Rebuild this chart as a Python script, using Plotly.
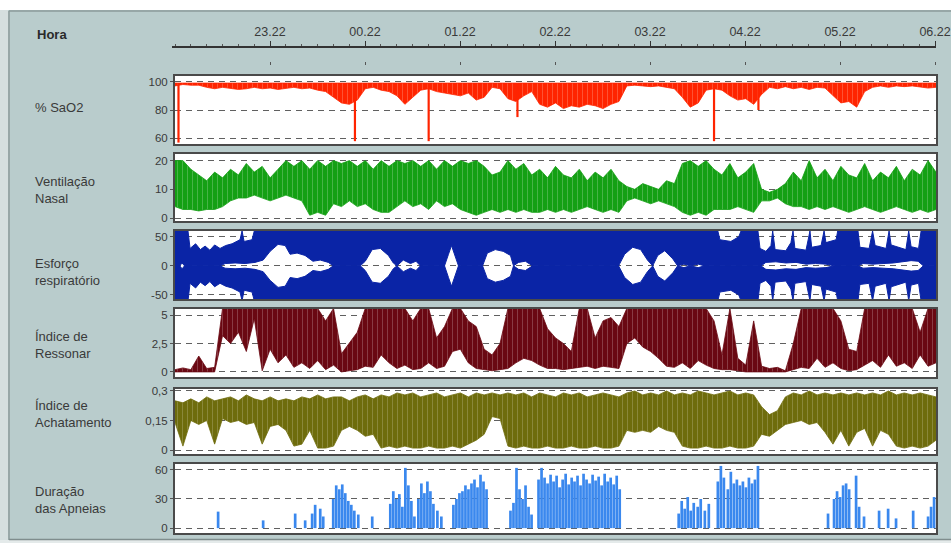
import plotly.graph_objects as go

# ---------------- data ----------------
minutes = list(range(0, 481, 5))          # 5-minute grid, 0 = 22.22
hour_ticks = [60, 120, 180, 240, 300, 360, 420, 480]
hour_labels = ["23.22", "00.22", "01.22", "02.22", "03.22", "04.22", "05.22", "06.22"]

panel_labels = ["% SaO2", "Ventilação<br>Nasal", "Esforço<br>respiratório",
                "Índice de<br>Ressonar", "Índice de<br>Achatamento", "Duração<br>das Apneias"]

# % SaO2: upper edge and lower envelope, plus deep single-sample drops
spo2_top = 99
spo2_low = [97, 98, 97.5, 97.5,
            96, 95, 96, 95, 94.5, 95, 96, 95, 95.5, 94.5, 95, 96, 95, 95.5, 94, 93,
            89, 85, 84, 87,
            95, 96, 94, 93,
            90, 84, 89,
            94,
            95, 93, 92, 91, 90, 92,
            87, 89,
            96, 95,
            88, 86, 90,
            93,
            84, 82, 85, 81, 83, 82, 84, 83, 81, 84, 86,
            97, 97.5, 97, 96.5, 97, 96, 95,
            89, 82, 85,
            94, 95, 94,
            90, 87, 88, 84, 91,
            96, 95, 96.5, 95, 96, 94.5, 96, 95.5,
            90, 85, 86, 82, 93,
            96, 97, 96, 97, 96.5, 97, 96, 95.5, 96]
spo2_drop_t = [2.2, 113.5, 160, 216, 340, 368]
spo2_drop_v = [57, 58, 58, 75, 58, 80]

# Ventilação nasal envelope
vent_high = [20, 20, 17, 15, 13, 16, 14, 17, 15, 19,
             16, 18, 14, 17, 20, 18, 20, 17, 20, 18,
             20, 19, 20, 18, 20, 17, 20, 18, 20, 19,
             20, 18, 20, 17, 20, 18, 20, 19, 20, 18,
             15, 16, 20, 17, 19, 15, 17, 14, 18, 15,
             14, 17, 13, 16, 14, 17, 13, 11, 10, 12,
             11, 10, 13, 12, 19, 20, 18, 20, 17, 15,
             19, 14, 16, 19, 10, 9, 10, 12, 16, 13,
             20, 14, 17, 13, 18, 15, 14, 19, 13, 16,
             14, 18, 13, 17, 15, 20, 16]
vent_low = [4, 3, 3, 2.5, 3, 3, 4, 6, 7, 7,
            8, 7, 6, 7, 8, 7, 6, 1, 2, 1,
            5, 4, 6, 4, 5, 3, 2, 2, 4, 6,
            4, 5, 3, 6, 4, 5, 3, 2, 1, 2,
            3, 2, 3, 2, 3, 2, 2, 3, 2, 3,
            2, 3, 4, 3, 2, 3, 2, 6, 7, 6,
            5, 6, 5, 4, 2, 1, 2, 1, 3, 3,
            3, 4, 3, 2, 6, 6, 7, 5, 4, 4,
            3, 4, 3, 4, 3, 2, 3, 4, 3, 2,
            3, 4, 3, 2, 3, 2, 3]

# Esforço respiratório: half-width of the quiet gaps around 0, and outer amplitude
eff_gap_t = [0, 3, 4.5, 6, 28.4, 31.6, 37.9, 44.2, 50.5, 55.6, 60, 65, 69.5, 72.6, 77, 82, 87,
             91.6, 96.7, 99.8, 116.9, 120, 124.4, 129.5, 134.6, 137.7, 140, 144, 148.5, 152,
             154.8, 170, 172.5, 174.4, 176.9, 178.8, 194, 197, 202, 207, 211.6, 213.5, 216.7,
             221, 225.5, 279.8, 283.6, 288.7, 293.7, 298, 301.3, 304.5, 308.9, 314, 317, 321,
             325, 330, 334, 369.6, 372.7, 379, 385.3, 391.7, 398, 404, 410.6, 415.7, 430.8,
             434, 440.3, 446.6, 453, 459, 464.3, 468.7, 472, 480]
eff_gap = [0, 0, 5, 0, 0, 4, 5, 4, 6, 10, 25, 37, 35, 20, 22, 18, 8, 10, 6, 0,
           0, 8, 28, 30, 18, 5, 0, 10, 4, 8, 0, 0, 20, 35, 15, 0, 0, 22, 28, 25,
           18, 0, 6, 8, 0, 0, 20, 32, 28, 10, 0, 18, 26, 12, 0, 3, 0, 3, 0, 0,
           6, 7, 5, 6, 3, 4, 3, 0, 0, 4, 3, 4, 5, 7, 9, 8, 0, 0]
eff_edge_t = [0, 8.2, 9.5, 13, 16, 19, 22, 25, 28.4, 32, 36, 41, 42.3, 43.6, 48.6, 50,
              342.4, 343.7, 350.6, 355.6, 357, 367.7, 369, 372.7, 375.9, 377, 378.5, 385.3,
              388.5, 389.8, 391, 398, 400.5, 401.6, 407.5, 409.4, 410.6, 417, 418, 430.8,
              432, 437.8, 440, 441.6, 448.5, 450.4, 451.7, 461, 462.8, 464.3, 469, 470.6, 480]
eff_edge = [60, 60, 30, 38, 28, 34, 27, 36, 30, 35, 38, 45, 60, 42, 45, 60,
            60, 45, 42, 50, 60, 60, 30, 25, 35, 60, 28, 26, 40, 60, 30, 27, 60,
            32, 35, 60, 40, 45, 60, 60, 32, 30, 60, 35, 30, 60, 36, 28, 60, 33, 30, 60, 60]

# Índice de Ressonar envelope
snore_high = [0.2, 0.35, 0.2, 1.4, 0.3, 0.4, 5.6, 5.6, 5.6, 5.6,
              5.6, 5.6, 5.6, 5.6, 5.6, 5.6, 5.6, 5.6, 5.6, 4.5,
              5.6, 1.6, 2.5, 3.5, 5.6, 5.6, 5.6, 5.6, 5.6, 5.6,
              4.5, 5.6, 5.6, 3, 4, 5.6, 5.6, 4.5, 4, 2,
              1.5, 2.5, 5.6, 5.6, 5.6, 5.6, 5.6, 3.8, 3, 2.5,
              1.8, 5.6, 5.6, 3, 4.5, 4.8, 4, 5.6, 5.6, 5.6,
              5.6, 5.6, 5.6, 5.6, 5.6, 5.6, 5.6, 5.6, 4.5, 1.5,
              5.6, 1.2, 0.6, 4.5, 0.5, 0.3, 0.4, 0.1, 2.5, 5.6,
              5.6, 5.6, 5.6, 5.6, 4.5, 2, 1.8, 5.6, 5.6, 5.6,
              5.6, 5.6, 5.6, 5.6, 3.5, 5.6, 5.6]
snore_low = [0, 0, 0, 0, 0, 0, 3.2, 2.5, 3.5, 1.8,
             4.7, 0.1, 2, 0.8, 1.5, 0.4, 0.8, 0.3, 1, 0.2,
             0.6, 0, 0.1, 0.2, 0.5, 0.4, 1.5, 0.8, 0.3, 0.6,
             0.2, 0.3, 0.8, 0.3, 0.5, 1.8, 2, 0.8, 0.3, 0.2,
             0.1, 0.2, 0.3, 0.8, 1.2, 1, 0.6, 0.3, 0.3, 0.2,
             0.3, 0.4, 0.5, 0.3, 0.5, 0.4, 0.3, 2.5, 3, 2.2,
             1.8, 1.2, 0.5, 0.4, 0.8, 0.3, 1, 0.6, 0.3, 0.2,
             0.2, 0.1, 0, 0, 0, 0, 0, 0, 0.2, 0.4,
             0.3, 1.2, 0.4, 0.8, 0.3, 0.1, 0.2, 0.6, 1, 0.4,
             1.5, 0.5, 0.8, 0.3, 1.5, 0.5, 0.8]

# Índice de Achatamento envelope
flat_high = [0.25, 0.24, 0.26, 0.24, 0.27, 0.25, 0.26, 0.27, 0.25, 0.28,
             0.26, 0.25, 0.27, 0.25, 0.26, 0.25, 0.27, 0.26, 0.28, 0.26,
             0.27, 0.27, 0.25, 0.27, 0.28, 0.26, 0.28, 0.27, 0.29, 0.28,
             0.29, 0.27, 0.28, 0.29, 0.27, 0.28, 0.29, 0.27, 0.29, 0.28,
             0.29, 0.28, 0.29, 0.28, 0.29, 0.27, 0.29, 0.28, 0.27, 0.29,
             0.28, 0.29, 0.27, 0.28, 0.29, 0.28, 0.27, 0.29, 0.3, 0.28,
             0.29, 0.28, 0.3, 0.28, 0.29, 0.28, 0.3, 0.29, 0.28, 0.29,
             0.3, 0.28, 0.29, 0.28, 0.22, 0.18, 0.2, 0.27, 0.29, 0.28,
             0.3, 0.28, 0.29, 0.28, 0.29, 0.28, 0.29, 0.28, 0.29, 0.28,
             0.3, 0.28, 0.29, 0.28, 0.29, 0.28, 0.27]
flat_low = [0.14, 0.02, 0.15, 0.13, 0.15, 0.03, 0.16, 0.14, 0.15, 0.13,
            0.14, 0.03, 0.12, 0.13, 0.1, 0.02, 0.03, 0.1, 0.01, 0.01,
            0.02, 0.1, 0.12, 0.1, 0.07, 0.08, 0.01, 0.02, 0.01, 0.02,
            0.01, 0.01, 0.02, 0.01, 0.01, 0.02, 0.01, 0.03, 0.05, 0.08,
            0.17, 0.16, 0.02, 0.01, 0.02, 0.01, 0.01, 0.02, 0.01, 0.01,
            0.02, 0.01, 0.01, 0.02, 0.01, 0.01, 0.02, 0.1, 0.09, 0.1,
            0.09, 0.12, 0.1, 0.09, 0.02, 0.01, 0.01, 0.02, 0.01, 0.01,
            0.02, 0.01, 0.01, 0.02, 0.08, 0.07, 0.1, 0.13, 0.14, 0.15,
            0.13, 0.14, 0.09, 0.03, 0.1, 0.02, 0.09, 0.11, 0.02, 0.1,
            0.08, 0.02, 0.01, 0.02, 0.01, 0.02, 0.05]

# Duração das apneias (seconds) at event times (minutes)
apnea_t = [27.2, 55.6, 75.8, 82.1, 86.5, 88.4, 91.6, 93.5, 99.8, 101.7, 103.6, 105.5, 107.4,
           109.3, 111.2, 113.1, 115.6, 124.4, 135.8, 137.7, 139.6, 141.5, 143.4, 145.3, 147.2,
           149.1, 151, 153.5, 155.4, 157.3, 159.2, 161.1, 163, 165.5, 168, 175.6, 177.5, 179.4,
           181.3, 183.2, 185.1, 187, 188.9, 190.8, 192.7, 194.6, 196.5, 211.6, 213.5, 215.4,
           217.3, 219.2, 221.1, 223, 224.9, 229.3, 231.2, 233.1, 235, 236.9, 238.8, 240.7,
           242.6, 244.5, 246.4, 248.3, 250.2, 252, 253.9, 255.8, 257.7, 259.6, 261.5, 263.4,
           265.3, 267.2, 269.1, 271, 272.9, 274.8, 276.7, 278.6, 280.5, 317.7, 319.6, 321.5,
           323.4, 325.3, 327.2, 329.7, 331.6, 334.2, 336.7, 342.4, 344.3, 346.2, 348.7, 350.6,
           352.5, 354.4, 356.3, 358.2, 360.1, 362, 363.9, 365.8, 367.7, 411.9, 415.7, 417.6,
           419.5, 421.4, 423.3, 425.2, 429.6, 431.5, 434.6, 444.1, 449.8, 454.8, 465.6, 475,
           476.9, 478.8]
apnea_v = [17, 8, 15, 8, 15, 24, 20, 12, 30, 44, 40, 45, 36,
           28, 24, 18, 14, 12, 25, 38, 30, 35, 22, 62, 44,
           28, 12, 30, 46, 36, 48, 38, 25, 18, 12, 24, 30, 36,
           38, 44, 40, 46, 50, 42, 55, 48, 40, 18, 26, 62,
           40, 30, 44, 22, 14, 50, 62, 52, 46, 55, 48, 54,
           42, 50, 56, 45, 52, 48, 54, 44, 56, 50, 46, 55,
           49, 53, 44, 56, 48, 52, 45, 54, 40, 15, 28, 20,
           32, 18, 26, 22, 30, 18, 25, 48, 64, 52, 40, 58,
           46, 50, 44, 48, 42, 52, 46, 50, 64, 15, 30, 38,
           32, 44, 46, 40, 54, 22, 12, 18, 20, 10, 18, 12,
           22, 32]

# ---------------- styling ----------------
BG = "#b9cccc"
FRAME = "#4a4a4a"
TXT = "#333333"
FONT = "Liberation Sans, Arial, sans-serif"
W, H = 951, 543
X0, X1 = 175 / W, 936 / W
panels_px = [(76, 144), (154, 221), (231, 299), (309, 377), (389, 454), (464, 533)]


def dom(a, b):
    return [1 - b / H, 1 - a / H]


fig = go.Figure()


def add_band(xs, hi, lo, color, light, ax):
    xa, ya = ("x" if ax == 1 else "x%d" % ax), ("y" if ax == 1 else "y%d" % ax)
    fig.add_trace(go.Scatter(x=xs, y=lo, mode="lines", line=dict(color=color, width=0.8),
                             xaxis=xa, yaxis=ya, hoverinfo="skip"))
    fig.add_trace(go.Scatter(x=xs, y=hi, mode="lines", fill="tonexty", fillcolor=color,
                             fillpattern=dict(shape="|", fgcolor=light, bgcolor=color, size=5, solidity=0.18),
                             line=dict(color=color, width=0.8),
                             xaxis=xa, yaxis=ya, hoverinfo="skip"))


# 1: SaO2
add_band(minutes, [spo2_top] * len(minutes), spo2_low, "#ff2400", "#ff8a70", 1)
sx, sy = [], []
for t, v in zip(spo2_drop_t, spo2_drop_v):
    sx += [t, t, None]
    sy += [spo2_top, v, None]
fig.add_trace(go.Scatter(x=sx, y=sy, mode="lines", line=dict(color="#ff2400", width=2.2),
                         xaxis="x", yaxis="y", hoverinfo="skip"))

# 2: Ventilação
add_band(minutes, vent_high, vent_low, "#14a014", "#86cc86", 2)

# 3: Esforço (upper and lower halves)
EBLUE = "#0a24a6"
fig.add_trace(go.Scatter(x=eff_edge_t + eff_gap_t[::-1], y=eff_edge + eff_gap[::-1],
                         fill="toself", fillcolor=EBLUE, mode="lines", line=dict(color=EBLUE, width=1),
                         xaxis="x3", yaxis="y3", hoverinfo="skip"))
fig.add_trace(go.Scatter(x=eff_edge_t + eff_gap_t[::-1],
                         y=[-v for v in eff_edge] + [-g for g in eff_gap[::-1]],
                         fill="toself", fillcolor=EBLUE, mode="lines", line=dict(color=EBLUE, width=1),
                         xaxis="x3", yaxis="y3", hoverinfo="skip"))

# 4: Ressonar
add_band(minutes, snore_high, snore_low, "#6a0812", "#b07a80", 4)

# 5: Achatamento
add_band(minutes, flat_high, flat_low, "#6e6c0c", "#aeac70", 5)

# 6: Apneias
fig.add_trace(go.Bar(x=apnea_t, y=apnea_v, width=1.7, marker=dict(color="#3a88ee", line=dict(width=0)),
                     xaxis="x6", yaxis="y6", hoverinfo="skip"))

# invisible traces for the time-axis strip
fig.add_trace(go.Scatter(x=[0], y=[0], mode="markers", marker=dict(opacity=0), xaxis="x7", yaxis="y7",
                         hoverinfo="skip"))
fig.add_trace(go.Scatter(x=[0], y=[0], mode="markers", marker=dict(opacity=0), xaxis="x8", yaxis="y7",
                         hoverinfo="skip"))

y_specs = [
    dict(range=[56, 104], tickvals=[60, 80, 100], ticktext=["60", "80", "100"]),
    dict(range=[-1, 22.3], tickvals=[0, 10, 20], ticktext=["0", "10", "20"]),
    dict(range=[-57, 60], tickvals=[-50, 0, 50], ticktext=["-50", "0", "50"]),
    dict(range=[-0.45, 5.55], tickvals=[0, 2.5, 5], ticktext=["0", "2,5", "5"]),
    dict(range=[-0.02, 0.31], tickvals=[0, 0.15, 0.3], ticktext=["0", "0,15", "0,3"]),
    dict(range=[-5, 66], tickvals=[0, 30, 60], ticktext=["0", "30", "60"]),
]

layout = dict(
    width=W, height=H, margin=dict(l=0, r=0, t=0, b=0, pad=0, autoexpand=False),
    paper_bgcolor=BG, plot_bgcolor="white", showlegend=False,
    font=dict(family=FONT, color=TXT),
)
for k in range(6):
    sfx = "" if k == 0 else str(k + 1)
    a, b = panels_px[k]
    layout["xaxis" + sfx] = dict(domain=[X0, X1], range=[0, 480], anchor="y" + sfx,
                                 showticklabels=False, ticks="", showgrid=False, zeroline=False,
                                 showline=True, mirror=True, linecolor=FRAME, linewidth=2,
                                 fixedrange=True, automargin=False)
    spec = y_specs[k]
    layout["yaxis" + sfx] = dict(domain=dom(a, b), range=spec["range"], anchor="x" + sfx,
                                 tickmode="array", tickvals=spec["tickvals"], ticktext=spec["ticktext"],
                                 ticks="outside", ticklen=3, tickcolor="#555", tickwidth=1,
                                 tickfont=dict(size=11.5, color="#3a3a3a", family=FONT),
                                 showgrid=True, gridcolor="#606060", gridwidth=1, griddash="6px,5px",
                                 zeroline=False, showline=True, mirror=True, linecolor=FRAME,
                                 linewidth=2, fixedrange=True, automargin=False)

# top time axis strip
TX0 = 172 / W
t_left = -3 * 480 / 761
layout["yaxis7"] = dict(domain=[1 - 61 / H, 1 - 48 / H], range=[0, 1], anchor="x7", visible=False,
                        fixedrange=True, automargin=False)
layout["xaxis7"] = dict(domain=[TX0, X1], range=[t_left, 480.6], anchor="y7", side="top",
                        tickmode="array", tickvals=hour_ticks, ticktext=hour_labels,
                        ticks="outside", ticklen=5, tickwidth=1.3, tickcolor="#333",
                        minor=dict(dtick=10, tick0=0, ticks="outside", ticklen=2, tickcolor="#555",
                                   showgrid=False),
                        tickfont=dict(size=12.5, color="#3a3a3a", family=FONT),
                        showline=True, linecolor="#333", linewidth=1.5, showgrid=False,
                        zeroline=False, fixedrange=True, automargin=False)
layout["xaxis8"] = dict(domain=[TX0, X1], range=[t_left, 480.6], anchor="y7",
                        overlaying="x7", side="bottom",
                        tickmode="array", tickvals=hour_ticks, showticklabels=False,
                        ticks="outside", ticklen=3, tickwidth=1, tickcolor="#555",
                        showline=False, showgrid=False, zeroline=False, fixedrange=True,
                        automargin=False)

shapes = [
    dict(type="rect", xref="x7 domain", yref="y7 domain", x0=0, x1=1, y0=0, y1=1,
         fillcolor=BG, line=dict(width=0), layer="below"),
    dict(type="rect", xref="paper", yref="paper", x0=0, x1=1, y0=1 - 10 / H, y1=1,
         fillcolor="white", line=dict(width=0), layer="above"),
    dict(type="line", xref="paper", yref="paper", x0=9 / W, x1=1, y0=1 - 11 / H, y1=1 - 11 / H,
         line=dict(color="#8d9b9b", width=1.5), layer="above"),
    dict(type="rect", xref="paper", yref="paper", x0=0, x1=8 / W, y0=0, y1=1 - 10 / H,
         fillcolor="#d5dfdf", line=dict(width=0), layer="above"),
    dict(type="line", xref="paper", yref="paper", x0=9 / W, x1=9 / W, y0=3 / H, y1=1 - 11 / H,
         line=dict(color="#8d9b9b", width=1.5), layer="above"),
    dict(type="rect", xref="paper", yref="paper", x0=0, x1=1, y0=0, y1=3 / H,
         fillcolor="#e4eaea", line=dict(width=0), layer="above"),
    dict(type="line", xref="paper", yref="paper", x0=9 / W, x1=1, y0=3.5 / H, y1=3.5 / H,
         line=dict(color="#7f8d8d", width=1.5), layer="above"),
]
layout["shapes"] = shapes

label_centres = [108, 190, 272, 345, 414, 500]
annotations = [dict(text="<b>Hora</b>", xref="paper", yref="paper", x=35 / W, y=1 - 34 / H,
                    xanchor="left", yanchor="middle", showarrow=False,
                    font=dict(size=13, color="#2a2a2a", family=FONT))]
for lab, yc in zip(panel_labels, label_centres):
    annotations.append(dict(text=lab, xref="paper", yref="paper", x=33 / W, y=1 - yc / H,
                            xanchor="left", yanchor="middle", align="left", showarrow=False,
                            font=dict(size=13, color="#3a3a3a", family=FONT)))
layout["annotations"] = annotations

fig.update_layout(**layout)
fig.write_html("out.html", config={"displayModeBar": False},
               post_script="document.body.style.margin='0px';document.body.style.overflow='hidden';")
